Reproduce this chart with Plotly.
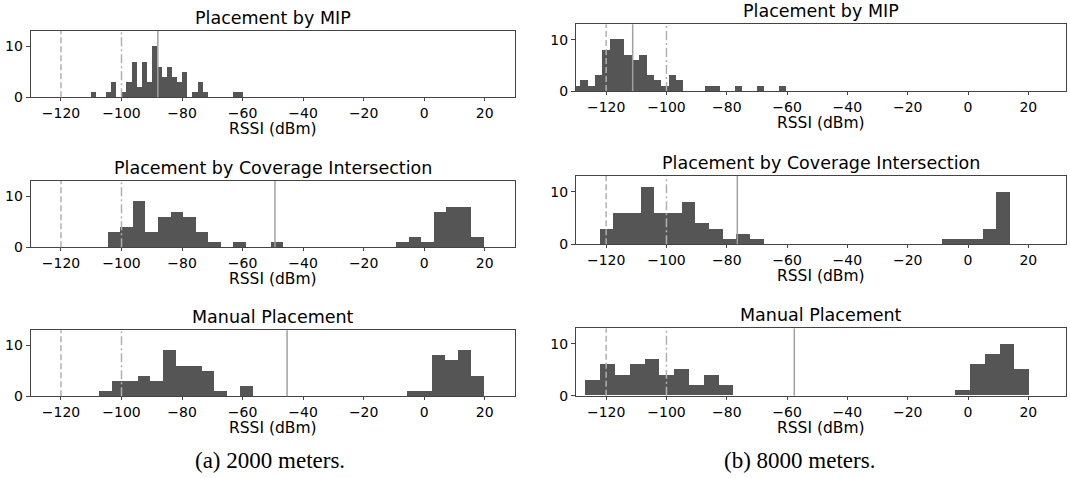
import numpy as np
import plotly.graph_objects as go

W, H = 1070, 478

# ---------------- data ----------------
tick_vals_x = [-120, -100, -80, -60, -40, -20, 0, 20]
tick_vals_y = [0, 10]
threshold_dashed = -120
threshold_dashdot = -100

titles = ["Placement by MIP", "Placement by MIP",
          "Placement by Coverage Intersection", "Placement by Coverage Intersection",
          "Manual Placement", "Manual Placement"]
x_label = "RSSI (dBm)"
captions = ["(a) 2000 meters.", "(b) 8000 meters."]

# histogram bin ranges (lo, hi) and counts per bin
mip_2000_range = (-110.2, -59.9)
mip_2000_counts = [1, 0, 0, 1, 3, 0, 1, 3, 7, 2, 7, 3, 10, 6, 4, 6, 4, 3, 5, 0,
                   1, 3, 1, 0, 0, 0, 0, 0, 1, 1]
mip_2000_mean = -88.0

mip_8000_range = (-131.0, -60.3)
mip_8000_counts = [1, 2, 1, 3, 8, 10, 10, 7, 6, 7, 3, 2, 1, 3, 2, 0, 0, 0, 1, 1,
                   0, 0, 1, 0, 0, 1, 0, 0, 1]
mip_8000_mean = -111.2

cov_2000_range = (-104.6, 19.6)
cov_2000_counts = [3, 4, 9, 3, 6, 7, 6, 3, 1, 0, 1, 0, 0, 1, 0, 0, 0, 0, 0, 0,
                   0, 0, 0, 1, 2, 1, 7, 8, 8, 2]
cov_2000_mean = -49.3

cov_8000_range = (-122.2, 13.9)
cov_8000_counts = [3, 6, 6, 11, 6, 6, 8, 4, 3, 1, 2, 1, 0, 0, 0, 0, 0, 0, 0, 0,
                   0, 0, 0, 0, 0, 1, 1, 1, 3, 10]
cov_8000_mean = -76.5

man_2000_range = (-107.5, 19.5)
man_2000_counts = [1, 3, 3, 4, 3, 9, 6, 6, 5, 1, 0, 2, 0, 0, 0, 0, 0, 0, 0, 0,
                   0, 0, 0, 0, 1, 1, 8, 7, 9, 4]
man_2000_mean = -45.3

man_8000_range = (-126.9, 20.3)
man_8000_counts = [3, 6, 4, 6, 7, 4, 5, 2, 4, 2, 0, 0, 0, 0, 0, 0, 0, 0, 0, 0,
                   0, 0, 0, 0, 0, 1, 6, 8, 10, 5]
man_8000_mean = -57.6

panels = [
    (mip_2000_range, mip_2000_counts, mip_2000_mean),
    (mip_8000_range, mip_8000_counts, mip_8000_mean),
    (cov_2000_range, cov_2000_counts, cov_2000_mean),
    (cov_8000_range, cov_8000_counts, cov_8000_mean),
    (man_2000_range, man_2000_counts, man_2000_mean),
    (man_8000_range, man_8000_counts, man_8000_mean),
]

# ---------------- layout geometry (pixels) ----------------
# (left, right, top, bottom) of each axes box
boxes = [
    (30.7, 515.0, 31.0, 97.3),
    (576.0, 1066.0, 24.3, 91.0),
    (30.7, 515.0, 181.0, 247.3),
    (576.0, 1066.0, 176.0, 244.3),
    (30.7, 515.0, 330.3, 396.3),
    (576.0, 1066.0, 328.3, 395.7),
]
x_ranges = [(-130, 30), (-130, 32.5)] * 3


def px_x(p):
    return p / W


def px_y(p):
    return 1 - p / H


BAR_COLOR = "#555555"
AX_COLOR = "#444444"
FONT = "DejaVu Sans"
TICK_SIZE = 14
TITLE_SIZE = 17.5
LABEL_SIZE = 15.5

fig = go.Figure()
layout = dict(
    width=W, height=H,
    margin=dict(l=0, r=0, t=0, b=0, autoexpand=False),
    paper_bgcolor="white", plot_bgcolor="white",
    showlegend=False,
    font=dict(family=FONT, size=14, color="black"),
    bargap=0,
)
shapes = []
annotations = []

for i, ((lo, hi), counts, mean) in enumerate(panels):
    n = i + 1
    sfx = "" if n == 1 else str(n)
    edges = np.linspace(lo, hi, len(counts) + 1)
    centers = (edges[:-1] + edges[1:]) / 2
    widths = np.diff(edges)
    fig.add_trace(go.Bar(
        x=centers, y=counts, width=widths,
        marker=dict(color=BAR_COLOR, line=dict(width=0)),
        xaxis="x" + sfx, yaxis="y" + sfx, hoverinfo="x+y",
    ))
    l, r, t, b = boxes[i]
    layout["xaxis" + sfx] = dict(
        domain=[px_x(l), px_x(r)], anchor="y" + sfx, range=list(x_ranges[i]),
        tickvals=tick_vals_x, ticks="outside", ticklen=3, tickwidth=1,
        tickcolor=AX_COLOR, showline=True, linecolor=AX_COLOR, linewidth=1,
        mirror=True, showgrid=False, zeroline=False,
        tickfont=dict(family=FONT, size=TICK_SIZE, color="black"),
    )
    layout["yaxis" + sfx] = dict(
        domain=[px_y(b), px_y(t)], anchor="x" + sfx, range=[0, 13],
        tickvals=tick_vals_y, ticks="outside", ticklen=4, tickwidth=1,
        tickcolor=AX_COLOR, showline=True, linecolor=AX_COLOR, linewidth=1,
        mirror=True, showgrid=False, zeroline=False,
        tickfont=dict(family=FONT, size=TICK_SIZE, color="black"),
    )
    xr = "x" + sfx
    yr = "y" + sfx + " domain"
    shapes.append(dict(type="line", xref=xr, yref=yr, x0=threshold_dashed,
                       x1=threshold_dashed, y0=0, y1=1, layer="above",
                       line=dict(color="#b0b0b0", width=1.5, dash="6px,3px")))
    shapes.append(dict(type="line", xref=xr, yref=yr, x0=threshold_dashdot,
                       x1=threshold_dashdot, y0=0, y1=1, layer="above",
                       line=dict(color="#b0b0b0", width=1.5,
                                 dash="9px,3px,2px,3px")))
    shapes.append(dict(type="line", xref=xr, yref=yr, x0=mean, x1=mean,
                       y0=0, y1=1, layer="above",
                       line=dict(color="#a0a0a0", width=1.5)))
    cx = px_x((l + r) / 2)
    annotations.append(dict(
        text=titles[i], xref="paper", yref="paper", x=cx, y=px_y(t - 1),
        xanchor="center", yanchor="bottom", showarrow=False,
        font=dict(family=FONT, size=TITLE_SIZE, color="black")))
    annotations.append(dict(
        text=x_label, xref="paper", yref="paper", x=cx, y=px_y(b + 21),
        xanchor="center", yanchor="top", showarrow=False,
        font=dict(family=FONT, size=LABEL_SIZE, color="black")))

for j, (cap, cxp) in enumerate(zip(captions, [270, 799])):
    annotations.append(dict(
        text=cap, xref="paper", yref="paper", x=px_x(cxp), y=px_y(460),
        xanchor="center", yanchor="middle", showarrow=False,
        font=dict(family="Liberation Serif", size=23, color="black")))

layout["shapes"] = shapes
layout["annotations"] = annotations
fig.update_layout(**layout)
fig.write_html("out.html",
               config={"displayModeBar": False},
               post_script="document.body.style.margin='0';"
                           "document.body.style.padding='0';")
